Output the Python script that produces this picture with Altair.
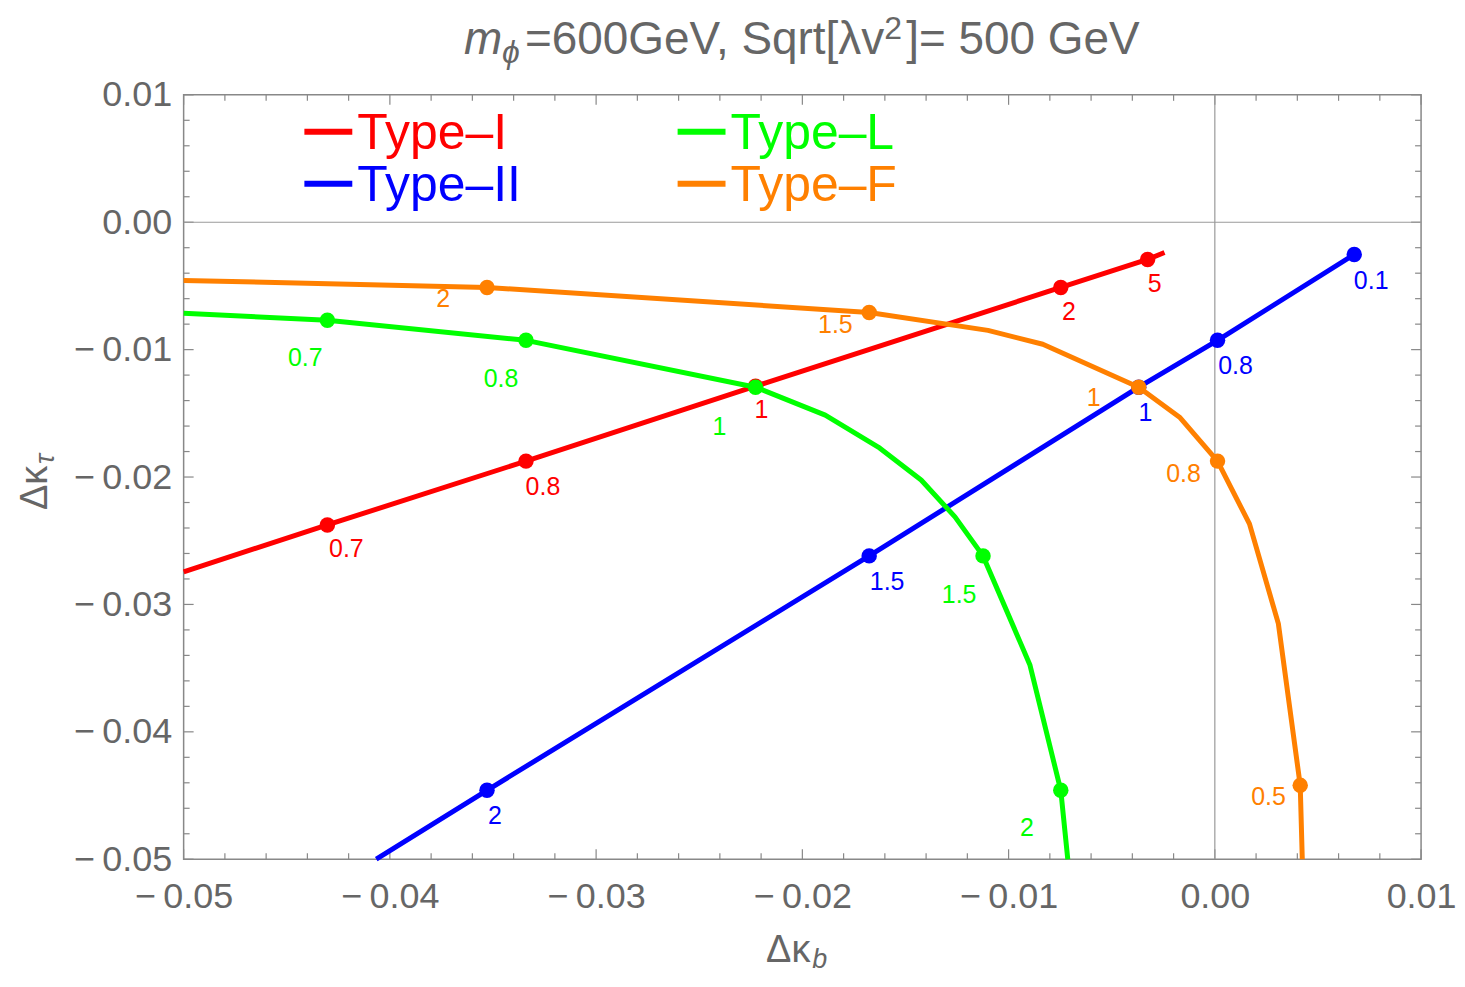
import altair as alt
import pandas as pd

FONT = "Liberation Sans"
W, H = 1240, 766
GRAY_TXT = "#666666"
FRAME = "#888888"

# ---------------- data ----------------
x_major = [-0.05, -0.04, -0.03, -0.02, -0.01, 0.00, 0.01]
y_major = [-0.05, -0.04, -0.03, -0.02, -0.01, 0.00, 0.01]

names = ["Type-I", "Type-II", "Type-L", "Type-F"]
legend_text = ["Type–I", "Type–II", "Type–L", "Type–F"]
colors = ["#FF0000", "#0000FF", "#00FF00", "#FF8000"]

# curves: Δκ_b (x) and Δκ_τ (y)
t1_x = [-0.05, -0.04303, -0.03340, -0.02227, -0.00747, -0.00326, -0.00244]
t1_y = [-0.02744, -0.02376, -0.01875, -0.01287, -0.00512, -0.00292, -0.00238]

t2_x = [-0.04066, -0.03529, -0.01676, -0.00369, 0.00013, 0.00676]
t2_y = [-0.05, -0.04459, -0.02619, -0.01295, -0.00927, -0.00253]

tL_x = [-0.05, -0.04303, -0.03340, -0.02227, -0.01889, -0.01632, -0.01424,
        -0.01260, -0.01124, -0.00897, -0.00747, -0.00713]
tL_y = [-0.00715, -0.00770, -0.00927, -0.01295, -0.01514, -0.01765, -0.02023,
        -0.02313, -0.02619, -0.03473, -0.04459, -0.05]

tF_x = [-0.05, -0.03529, -0.01676, -0.01100, -0.00834, -0.00369, -0.00171,
        0.00013, 0.00168, 0.00308, 0.00414, 0.00424]
tF_y = [-0.00457, -0.00512, -0.00708, -0.00849, -0.00958, -0.01295, -0.01530,
        -0.01875, -0.02368, -0.03151, -0.04420, -0.05]

# marked points
p1_x = [-0.04303, -0.03340, -0.02227, -0.00747, -0.00326]
p1_y = [-0.02376, -0.01875, -0.01287, -0.00512, -0.00292]
p1_lab = ["0.7", "0.8", "1", "2", "5"]
p1_lx = [-0.04211, -0.03258, -0.02198, -0.00708, -0.00292]
p1_ly = [-0.02564, -0.02078, -0.01475, -0.00708, -0.00488]

p2_x = [-0.03529, -0.01676, -0.00369, 0.00013, 0.00676]
p2_y = [-0.04459, -0.02619, -0.01295, -0.00927, -0.00253]
p2_lab = ["2", "1.5", "1", "0.8", "0.1"]
p2_lx = [-0.03490, -0.01589, -0.00336, 0.00100, 0.00758]
p2_ly = [-0.04663, -0.02822, -0.01499, -0.01131, -0.00465]

pL_x = [-0.04303, -0.03340, -0.02227, -0.01124, -0.00747]
pL_y = [-0.00770, -0.00927, -0.01295, -0.02619, -0.04459]
pL_lab = ["0.7", "0.8", "1", "1.5", "2"]
pL_lx = [-0.04410, -0.03461, -0.02402, -0.01240, -0.00911]
pL_ly = [-0.01068, -0.01232, -0.01608, -0.02924, -0.04757]

pF_x = [-0.03529, -0.01676, -0.00369, 0.00013, 0.00414]
pF_y = [-0.00512, -0.00708, -0.01295, -0.01875, -0.04420]
pF_lab = ["2", "1.5", "1", "0.8", "0.5"]
pF_lx = [-0.03742, -0.01840, -0.00587, -0.00152, 0.00260]
pF_ly = [-0.00606, -0.00809, -0.01381, -0.01976, -0.04514]

curves = [(t1_x, t1_y), (t2_x, t2_y), (tL_x, tL_y), (tF_x, tF_y)]
points = [(p1_x, p1_y, p1_lab, p1_lx, p1_ly), (p2_x, p2_y, p2_lab, p2_lx, p2_ly),
          (pL_x, pL_y, pL_lab, pL_lx, pL_ly), (pF_x, pF_y, pF_lab, pF_lx, pF_ly)]

# ---------------- scales / axes ----------------
LABEL_EXPR = "datum.value < -0.0001 ? '−\u2009' + format(-datum.value, '.2f') : format(abs(datum.value), '.2f')"
xscale = alt.Scale(domain=[-0.05, 0.01], nice=False, zero=False)
yscale = alt.Scale(domain=[-0.05, 0.01], nice=False, zero=False)
xaxis = alt.Axis(values=x_major, labelExpr=LABEL_EXPR, title=None, grid=False, ticks=False,
                 tickSize=0, domain=False, labelFont=FONT, labelFontSize=36,
                 labelColor=GRAY_TXT, labelPadding=20, labelFlush=False,
                 labelOverlap=False)
yaxis = alt.Axis(values=y_major, labelExpr=LABEL_EXPR, title=None, grid=False, ticks=False,
                 tickSize=0, domain=False, labelFont=FONT, labelFontSize=36,
                 labelColor=GRAY_TXT, labelPadding=12, labelFlush=False,
                 labelOverlap=False)


def X(f):
    return alt.X(f, type="quantitative", scale=xscale, axis=xaxis)


def Y(f):
    return alt.Y(f, type="quantitative", scale=yscale, axis=yaxis)


one = pd.DataFrame({"a": [0]})
layers = []

# ---------------- frame ticks (inside, all four sides) ----------------
x_minor = [round(m + k * 0.002, 4) for m in x_major[:-1] for k in range(1, 5)]
y_minor = [round(m + k * 0.002, 4) for m in y_major[:-1] for k in range(1, 5)]
for vals, ln in [(x_major, 10), (x_minor, 6)]:
    d = pd.DataFrame({"v": vals})
    layers.append(alt.Chart(d).mark_rule(color=FRAME, strokeWidth=1.2).encode(
        x=X("v"), y=alt.value(H), y2=alt.value(H - ln)))
    layers.append(alt.Chart(d).mark_rule(color=FRAME, strokeWidth=1.2).encode(
        x=X("v"), y=alt.value(0), y2=alt.value(ln)))
for vals, ln in [(y_major, 10), (y_minor, 6)]:
    d = pd.DataFrame({"v": vals})
    layers.append(alt.Chart(d).mark_rule(color=FRAME, strokeWidth=1.2).encode(
        y=Y("v"), x=alt.value(0), x2=alt.value(ln)))
    layers.append(alt.Chart(d).mark_rule(color=FRAME, strokeWidth=1.2).encode(
        y=Y("v"), x=alt.value(W), x2=alt.value(W - ln)))

# zero grid lines
layers.append(alt.Chart(pd.DataFrame({"v": [0.0]})).mark_rule(color="#9a9a9a", strokeWidth=1.2).encode(
    x=X("v"), y=alt.value(0), y2=alt.value(H)))
layers.append(alt.Chart(pd.DataFrame({"v": [0.0]})).mark_rule(color="#9a9a9a", strokeWidth=1.2).encode(
    y=Y("v"), x=alt.value(0), x2=alt.value(W)))

# ---------------- curves and points ----------------
for (cx, cy), (px, py, lab, lx, ly), col in zip(curves, points, colors):
    dc = pd.DataFrame({"x": cx, "y": cy, "o": list(range(len(cx)))})
    layers.append(alt.Chart(dc).mark_line(color=col, strokeWidth=5, strokeJoin="round").encode(
        x=X("x"), y=Y("y"), order="o:Q"))
    dp = pd.DataFrame({"x": px, "y": py})
    layers.append(alt.Chart(dp).mark_point(filled=True, fill=col, color=col, size=240, opacity=1,
                                           shape="circle").encode(x=X("x"), y=Y("y")))

for (px, py, lab, lx, ly), col in zip(points, colors):
    dl = pd.DataFrame({"x": lx, "y": ly, "t": lab})
    layers.append(alt.Chart(dl).mark_text(color=col, font=FONT, fontSize=25, align="center",
                                          baseline="middle").encode(x=X("x"), y=Y("y"), text="t:N"))

# ---------------- legend ----------------
leg_pos = [(121, 37, 54), (121, 89, 106), (495, 37, 54), (495, 89, 106)]
for (lx0, ly_line, ly_text), txt, col in zip(leg_pos, legend_text, colors):
    layers.append(alt.Chart(one).mark_rule(color=col, strokeWidth=6).encode(
        x=alt.value(lx0), x2=alt.value(lx0 + 48), y=alt.value(ly_line)))
    layers.append(alt.Chart(one).mark_text(text=txt, color=col, font=FONT, fontSize=50,
                                           align="left", baseline="alphabetic").encode(
        x=alt.value(lx0 + 53), y=alt.value(ly_text)))

# ---------------- title ----------------
title_parts = [
    ("m", 281, -41, 46, "italic"),
    ("ϕ", 319, -32, 32, "italic"),
    ("=600GeV, Sqrt[λv", 342, -41, 46, "normal"),
    ("2", 702, -56, 32, "normal"),
    ("]= 500 GeV", 724, -41, 46, "normal"),
]
for txt, tx, ty, fs, st in title_parts:
    layers.append(alt.Chart(one).mark_text(text=txt, color=GRAY_TXT, font=FONT, fontSize=fs,
                                           fontStyle=st, align="left", baseline="alphabetic").encode(
        x=alt.value(tx), y=alt.value(ty)))

# ---------------- axis titles ----------------
layers.append(alt.Chart(one).mark_text(text="Δκ", color=GRAY_TXT, font=FONT, fontSize=38,
                                       align="right", baseline="alphabetic").encode(
    x=alt.value(628), y=alt.value(869)))
layers.append(alt.Chart(one).mark_text(text="b", color=GRAY_TXT, font=FONT, fontSize=27,
                                       fontStyle="italic", align="left", baseline="alphabetic").encode(
    x=alt.value(630), y=alt.value(875)))
layers.append(alt.Chart(one).mark_text(text="Δκ", color=GRAY_TXT, font=FONT, fontSize=38, angle=270,
                                       align="left", baseline="alphabetic").encode(
    x=alt.value(-137), y=alt.value(416)))
layers.append(alt.Chart(one).mark_text(text="τ", color=GRAY_TXT, font=FONT, fontSize=27, angle=270,
                                       fontStyle="italic", align="left", baseline="alphabetic").encode(
    x=alt.value(-130), y=alt.value(370)))

chart = alt.layer(*layers).properties(
    width=W, height=H,
    autosize=alt.AutoSizeParams(type="none"),
    padding={"left": 176, "top": 86, "right": 36, "bottom": 116},
    background="white",
).configure_view(stroke=FRAME, strokeWidth=1.5)

chart.save("out.html", embed_options={"renderer": "svg", "actions": False})
